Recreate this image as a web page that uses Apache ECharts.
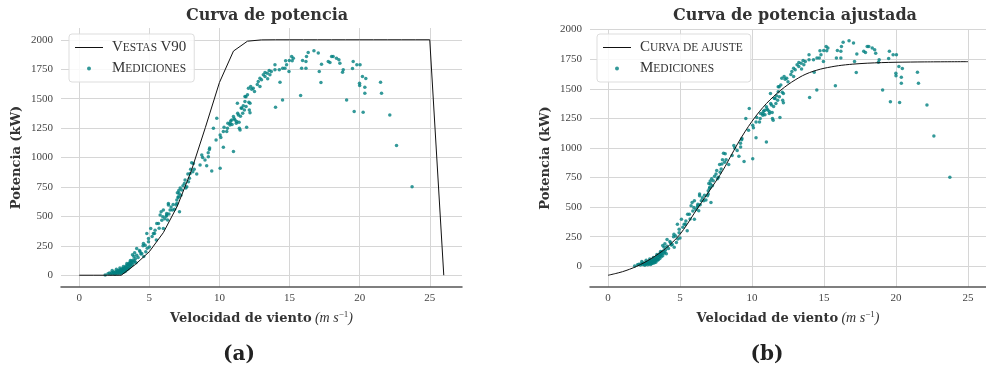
<!DOCTYPE html>
<html>
<head>
<meta charset="utf-8">
<script src="https://cdn.jsdelivr.net/npm/echarts@6/dist/echarts.min.js"></script>
<style>
  html, body { margin: 0; padding: 0; background: #fff; }
  #chart { width: 986px; height: 374px; }
</style>
</head>
<body>
<div id="chart"></div>
<script>
// curva del fabricante Vestas V90 (kW)
const vestasX = [0, 1, 2, 3, 4, 5, 6, 7, 8, 9, 10, 11, 12, 13, 14, 15, 16, 17, 18, 19, 20, 21, 22, 23, 24, 25, 26];
const vestasP = [0, 0, 0, 0, 91, 200, 362, 588, 889, 1256, 1637, 1904, 1988, 1999, 2000, 2000, 2000, 2000, 2000, 2000, 2000, 2000, 2000, 2000, 2000, 2000, 0];

// curva ajustada
const fitX = [0, 0.5, 1, 1.5, 2, 2.5, 3, 3.5, 4, 4.5, 5, 5.5, 6, 6.5, 7, 7.5, 8, 8.5, 9, 9.5, 10, 10.5, 11, 11.5, 12, 12.5, 13, 13.5, 14, 14.5, 15, 16, 17, 18, 19, 20, 22, 25];
const fitP = [-76, -62, -46, -25, 0, 30, 65, 105, 150, 205, 270, 355, 450, 540, 630, 720, 815, 925, 1035, 1135, 1225, 1305, 1375, 1435, 1488, 1535, 1575, 1610, 1637, 1657, 1673, 1695, 1708, 1716, 1721, 1724, 1727, 1729];

// mediciones [velocidad, potencia]
const mediciones = [
  [1.85, 2], [2.05, 12], [2.15, 18], [2.25, 10], [2.3, 22], [2.35, 40], [2.4, 15], [2.45, 28], [2.5, 20], [2.55, 8],
  [2.6, 30], [2.62, 18], [2.65, 50], [2.7, 35], [2.72, 25], [2.75, 12], [2.8, 40], [2.82, 28], [2.85, 20], [2.9, 45],
  [2.9, 62], [2.92, 35], [2.95, 15], [3.0, 50], [3.0, 30], [3.02, 22], [3.05, 42], [3.1, 58], [3.1, 35], [3.12, 25],
  [3.15, 48], [3.15, 75], [3.2, 62], [3.2, 40], [3.22, 30], [3.25, 55], [3.3, 70], [3.3, 45], [3.32, 35], [3.35, 80],
  [3.4, 60], [3.4, 100], [3.42, 50], [3.45, 90], [3.5, 75], [3.5, 55], [3.55, 100], [3.58, 85], [3.6, 65], [3.62, 110],
  [3.65, 95], [3.65, 125], [3.7, 80], [3.72, 120], [3.75, 105], [3.8, 90], [3.8, 175], [3.85, 130], [3.88, 110], [3.9, 160],
  [3.95, 120], [3.95, 190], [4.0, 140], [4.05, 105], [4.1, 227], [4.1, 170], [4.2, 150], [4.3, 210], [4.34, 199], [4.4, 180],
  [4.46, 184], [4.55, 250], [4.58, 270], [4.6, 160], [4.7, 255], [4.75, 200], [4.82, 355], [4.85, 230], [4.94, 284], [4.94, 312],
  [5.0, 240], [5.1, 397], [5.2, 330], [5.29, 355], [5.37, 355], [5.41, 383], [5.5, 300], [5.53, 440], [5.65, 440], [5.7, 400],
  [5.77, 511], [5.84, 539], [5.89, 468], [5.96, 496], [6.0, 553], [6.0, 397], [6.1, 480], [6.2, 500], [6.24, 525], [6.24, 511],
  [6.3, 470], [6.36, 610], [6.36, 596], [6.4, 520], [6.48, 553], [6.55, 580], [6.65, 553], [6.7, 600], [6.8, 560], [6.91, 596],
  [6.96, 638], [6.96, 610], [7.0, 700], [7.05, 660], [7.07, 667], [7.1, 720], [7.12, 695], [7.15, 539], [7.2, 740], [7.25, 680],
  [7.31, 723], [7.4, 760], [7.5, 780], [7.55, 809], [7.6, 740], [7.67, 752], [7.75, 860], [7.79, 794], [7.86, 823], [7.91, 865],
  [7.95, 900], [8.02, 956], [8.1, 880], [8.14, 950], [8.2, 900], [8.38, 860], [8.62, 936], [8.74, 1021], [8.8, 1000], [8.97, 979],
  [9.09, 930], [9.2, 1040], [9.21, 1007], [9.28, 1069], [9.3, 1080], [9.45, 885], [9.57, 1248], [9.76, 1149], [9.81, 1333], [10.05, 908],
  [10.05, 1191], [10.1, 1170], [10.28, 1087], [10.28, 1220], [10.33, 1257], [10.52, 1220], [10.57, 1248], [10.6, 1290], [10.75, 1277], [10.76, 1291],
  [10.8, 1310], [10.88, 1319], [10.9, 1280], [11.0, 1348], [11.0, 1050], [11.05, 1330], [11.11, 1319], [11.2, 1290], [11.23, 1305], [11.28, 1461],
  [11.3, 1376], [11.35, 1362], [11.4, 1300], [11.42, 1248], [11.47, 1234], [11.5, 1350], [11.55, 1420], [11.59, 1418], [11.66, 1376], [11.7, 1440],
  [11.78, 1404], [11.82, 1475], [11.82, 1518], [11.89, 1517], [11.9, 1433], [11.94, 1257], [12.0, 1532], [12.07, 1589], [12.1, 1470], [12.13, 1404],
  [12.18, 1381], [12.18, 1461], [12.23, 1603], [12.3, 1580], [12.41, 1589], [12.5, 1560], [12.7, 1620], [12.77, 1645], [12.89, 1674], [12.89, 1603],
  [13.0, 1660], [13.13, 1702], [13.25, 1722], [13.25, 1688], [13.41, 1716], [13.44, 1668], [13.55, 1739], [13.6, 1702], [13.7, 1730], [13.96, 1745],
  [13.96, 1787], [14.0, 1427], [14.27, 1745], [14.32, 1640], [14.5, 1489], [14.51, 1759], [14.67, 1759], [14.72, 1821], [14.79, 1787], [14.96, 1730],
  [14.98, 1824], [15.15, 1858], [15.19, 1821], [15.27, 1844], [15.79, 1526], [15.86, 1759], [15.93, 1824], [16.17, 1816], [16.17, 1759], [16.21, 1858],
  [16.33, 1892], [16.74, 1906], [17.05, 1887], [17.12, 1730], [17.24, 1637], [17.28, 1793], [17.76, 1816], [17.88, 1807], [18.0, 1858], [18.11, 1858],
  [18.35, 1844], [18.52, 1830], [18.59, 1801], [18.78, 1725], [18.83, 1745], [19.07, 1489], [19.49, 1756], [19.54, 1816], [19.61, 1390], [19.8, 1787],
  [19.99, 1631], [20.0, 1611], [20.03, 1787], [20.2, 1688], [20.25, 1384], [20.37, 1597], [20.37, 1546], [20.44, 1671], [21.49, 1640], [21.56, 1546],
  [22.15, 1362], [22.63, 1101], [23.74, 752]
];

const xTicks = [0, 5, 10, 15, 20, 25];
const yTicks = [0, 250, 500, 750, 1000, 1250, 1500, 1750, 2000];

const serif = "Liberation Serif";
const boldSerif = "DejaVu Serif";
const gridColor = "#d6d6d6";
const teal = "#008080";

const legendNames = {
  vestas: "{b|V}{s|ESTAS} {b|V90}",
  medA: "{b|M}{s|EDICIONES}",
  ajuste: "{b|C}{s|URVA DE AJUSTE}",
  medB: "{b|M}{s|EDICIONES}",
};
// icono de línea sin marcador
const lineIcon = "path://M0,0 H28 V1 H0 Z";

const zip = (xs, ys) => xs.map((x, i) => [x, ys[i]]);

const xAxisBase = (gridIndex, min, max) => ({
  type: "value",
  gridIndex,
  min,
  max,
  name: "{b|Velocidad de viento} {i|(m s}{sup|−1}{i|)}",
  nameLocation: "middle",
  nameGap: 23,
  nameTextStyle: {
    rich: {
      b: { fontFamily: boldSerif, fontWeight: "bold", fontSize: 13, color: "#333" },
      i: { fontFamily: serif, fontStyle: "italic", fontSize: 14, color: "#333" },
      sup: { fontFamily: serif, fontSize: 9, color: "#333", verticalAlign: "top", padding: [0, 0, 8, 0] },
    },
  },
  axisLine: { show: true, onZero: false, lineStyle: { color: "#555", width: 1.5 } },
  axisTick: { show: false, customValues: xTicks },
  axisLabel: { customValues: xTicks, fontFamily: serif, fontSize: 11, color: "#444", margin: 6 },
  splitLine: { show: true, lineStyle: { color: gridColor, width: 1 } },
});

const yAxisBase = (gridIndex, min, max, gap) => ({
  type: "value",
  gridIndex,
  min,
  max,
  name: "Potencia (kW)",
  nameLocation: "middle",
  nameGap: gap,
  nameTextStyle: { fontFamily: boldSerif, fontWeight: "bold", fontSize: 13, color: "#333" },
  axisLine: { show: false, onZero: false },
  axisTick: { show: false, customValues: yTicks },
  axisLabel: { customValues: yTicks, formatter: (v) => String(v), fontFamily: serif, fontSize: 11, color: "#444", margin: 8 },
  splitLine: { show: true, lineStyle: { color: gridColor, width: 1 } },
});

const legendBase = (left, names) => ({
  orient: "vertical",
  left,
  top: 34,
  data: [
    { name: names[0], icon: lineIcon },
    { name: names[1], icon: "circle" },
  ],
  itemWidth: 28,
  itemHeight: 4,
  itemGap: 6,
  padding: [6, 8, 6, 6],
  borderColor: "#ddd",
  borderWidth: 1,
  borderRadius: 3,
  backgroundColor: "rgba(255,255,255,0.85)",
  formatter: (n) => legendNames[n],
  textStyle: {
    padding: [0, 0, 0, 4],
    rich: {
      b: { fontFamily: serif, fontSize: 15, color: "#333" },
      s: { fontFamily: serif, fontSize: 11.5, color: "#333" },
    },
  },
});

const chart = echarts.init(document.getElementById("chart"), null, { renderer: "canvas" });
chart.setOption({
  animation: false,
  backgroundColor: "#fff",
  title: [
    { text: "Curva de potencia", left: 262, top: 3, textAlign: "center",
      textStyle: { fontFamily: boldSerif, fontWeight: "bold", fontSize: 16, color: "#333" } },
    { text: "Curva de potencia ajustada", left: 790, top: 3, textAlign: "center",
      textStyle: { fontFamily: boldSerif, fontWeight: "bold", fontSize: 16, color: "#333" } },
    { text: "(a)", left: 234, top: 340, textAlign: "center",
      textStyle: { fontFamily: boldSerif, fontWeight: "bold", fontSize: 20, color: "#222" } },
    { text: "(b)", left: 762, top: 340, textAlign: "center",
      textStyle: { fontFamily: boldSerif, fontWeight: "bold", fontSize: 20, color: "#222" } },
  ],
  legend: [
    legendBase(69, ["vestas", "medA"]),
    legendBase(597, ["ajuste", "medB"]),
  ],
  grid: [
    { left: 61, top: 28, width: 401, height: 259 },
    { left: 590, top: 29, width: 401, height: 258 },
  ],
  xAxis: [xAxisBase(0, -1.3, 27.3), xAxisBase(1, -1.25, 26.25)],
  yAxis: [yAxisBase(0, -100, 2100, 38), yAxisBase(1, -175, 2005, 38)],
  series: [
    { name: "vestas", type: "line", xAxisIndex: 0, yAxisIndex: 0, data: zip(vestasX, vestasP),
      symbol: "none", lineStyle: { color: "#111", width: 1 }, itemStyle: { color: "#111" }, z: 3 },
    { name: "medA", type: "scatter", xAxisIndex: 0, yAxisIndex: 0, data: mediciones,
      symbolSize: 3.5, itemStyle: { color: teal }, z: 2 },
    { name: "ajuste", type: "line", xAxisIndex: 1, yAxisIndex: 1, data: zip(fitX, fitP),
      symbol: "none", smooth: 0.3, lineStyle: { color: "#111", width: 1 }, itemStyle: { color: "#111" }, z: 3 },
    { name: "medB", type: "scatter", xAxisIndex: 1, yAxisIndex: 1, data: mediciones,
      symbolSize: 3.5, itemStyle: { color: teal }, z: 2 },
  ],
});
</script>
</body>
</html>
